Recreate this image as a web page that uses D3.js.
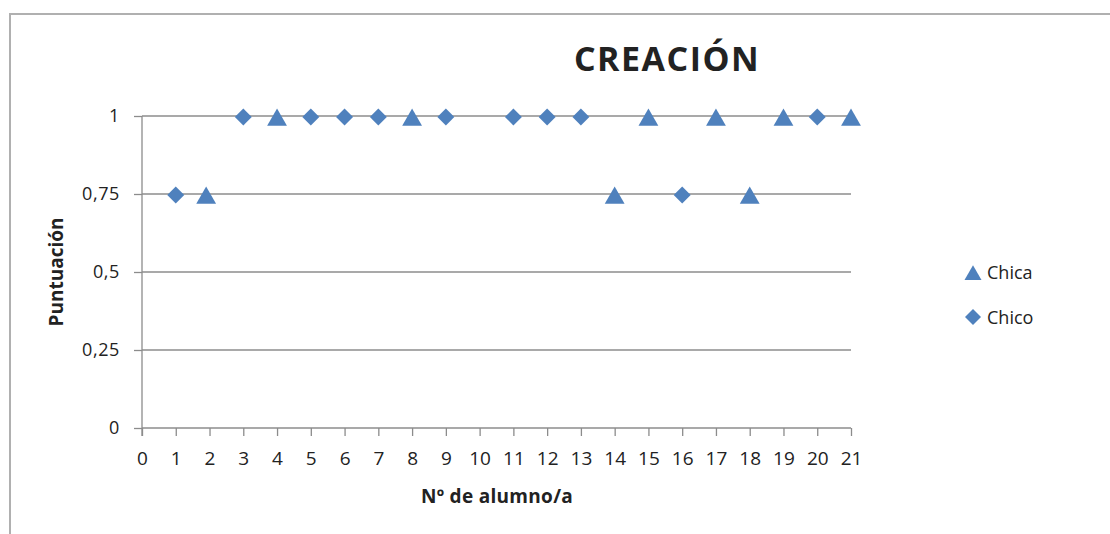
<!DOCTYPE html>
<html>
<head>
<meta charset="utf-8">
<script src="https://cdn.jsdelivr.net/npm/d3@7"></script>
<style>
  body { margin: 0; background: #fff; }
  svg text { font-family: "Open Sans", "Noto Sans", sans-serif; fill: #222; }
</style>
</head>
<body>
<svg id="chart" width="1110" height="534"></svg>
<script>
// Scores per student, split by group
const chicaX = [1.9, 4, 8, 14, 15, 17, 18, 19, 21];
const chicaY = [0.75, 1, 1, 0.75, 1, 1, 0.75, 1, 1];
const chicoX = [1, 3, 5, 6, 7, 9, 11, 12, 13, 16, 20];
const chicoY = [0.75, 1, 1, 1, 1, 1, 1, 1, 1, 0.75, 1];
const xTicks = d3.range(0, 22);
const yTicks = [0, 0.25, 0.5, 0.75, 1];
const seriesNames = ["Chica", "Chico"];

const svg = d3.select("#chart");
const blue = "#4F81BD";
const grid = "#8c8c8c";

// chart frame
svg.append("rect")
  .attr("x", 10).attr("y", 14).attr("width", 1110).attr("height", 540)
  .attr("fill", "none").attr("stroke", "#b0b0b0").attr("stroke-width", 2);

const plotLeft = 142, plotRight = 851, plotTop = 116, plotBottom = 428;
const x = d3.scaleLinear().domain([0, 21]).range([plotLeft, plotRight]);
const y = d3.scaleLinear().domain([0, 1]).range([plotBottom, plotTop]);

// horizontal gridlines
svg.append("g").selectAll("line").data(yTicks.filter(d => d > 0)).join("line")
  .attr("x1", plotLeft).attr("x2", plotRight)
  .attr("y1", d => y(d)).attr("y2", d => y(d))
  .attr("stroke", grid).attr("stroke-width", 1.3);

// y axis
const yAxis = svg.append("g").attr("transform", `translate(${plotLeft},0)`)
  .call(d3.axisLeft(y).tickValues(yTicks).tickSize(8).tickPadding(14)
    .tickFormat(d => d3.format("")(d).replace(".", ",")));
yAxis.select(".domain").attr("stroke", grid).attr("stroke-width", 1.3)
  .attr("d", `M0,${plotTop}V${plotBottom + 8}`);
yAxis.selectAll(".tick line").attr("stroke", grid).attr("stroke-width", 1.3);
yAxis.selectAll("text").style("font-size", "18px").style("letter-spacing", "0.6px").attr("fill", "#222");

// x axis
const xAxis = svg.append("g").attr("transform", `translate(0,${plotBottom})`)
  .call(d3.axisBottom(x).tickValues(xTicks).tickSize(8).tickPadding(16).tickFormat(d3.format("d")));
xAxis.select(".domain").attr("stroke", grid).attr("stroke-width", 1.3)
  .attr("d", `M${plotLeft},0H${plotRight}`);
xAxis.selectAll(".tick line").attr("stroke", grid).attr("stroke-width", 1.3);
xAxis.selectAll("text").style("font-size", "19px").attr("fill", "#222");

const tri = d3.symbol().type(d3.symbolTriangle).size(170);
const dia = d3.symbol().type(d3.symbolSquare).size(144);
const triSmall = d3.symbol().type(d3.symbolTriangle).size(125);
const diaSmall = d3.symbol().type(d3.symbolSquare).size(128);

// Chica series (triangles)
svg.append("g").selectAll("path").data(chicaX.map((v, i) => [v, chicaY[i]])).join("path")
  .attr("d", tri)
  .attr("transform", d => `translate(${x(d[0])},${y(d[1]) + 4})`)
  .attr("fill", blue);

// Chico series (diamonds)
svg.append("g").selectAll("path").data(chicoX.map((v, i) => [v, chicoY[i]])).join("path")
  .attr("d", dia)
  .attr("transform", d => `translate(${x(d[0])},${y(d[1]) + 1}) rotate(45)`)
  .attr("fill", blue);

// title
svg.append("text").attr("x", 667).attr("y", 71).attr("text-anchor", "middle")
  .style("font-size", "34px").style("font-weight", "bold").style("letter-spacing", "1.5px")
  .attr("fill", "#111")
  .text("CREACIÓN");

// axis titles
svg.append("text").attr("x", 497).attr("y", 503).attr("text-anchor", "middle")
  .style("font-size", "19px").style("font-weight", "bold").style("letter-spacing", "0.3px")
  .text("Nº de alumno/a");
svg.append("text").attr("transform", "translate(63,272) rotate(-90)").attr("text-anchor", "middle")
  .style("font-size", "19px").style("font-weight", "bold")
  .text("Puntuación");

// legend
const legend = svg.append("g");
const legendRows = legend.selectAll("g").data(seriesNames).join("g")
  .attr("transform", (d, i) => `translate(973,${272 + i * 45})`);
legendRows.append("path")
  .attr("d", (d, i) => i === 0 ? triSmall() : diaSmall())
  .attr("transform", (d, i) => i === 0 ? "translate(0,3)" : "rotate(45)")
  .attr("fill", blue);
legendRows.append("text").attr("x", 14).attr("y", 7)
  .style("font-size", "18px").text(d => d);
</script>
</body>
</html>
